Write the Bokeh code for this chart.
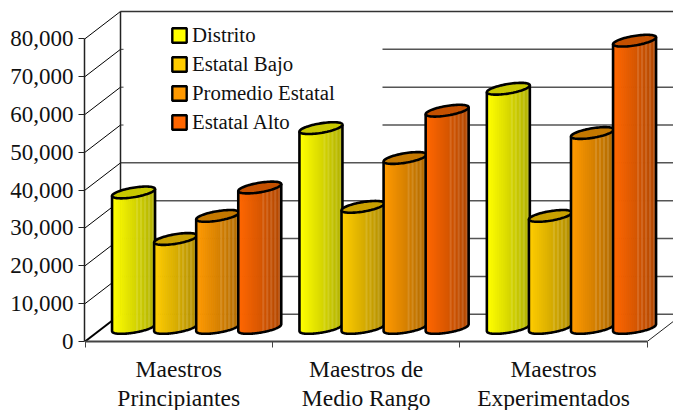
from bokeh.plotting import figure
from bokeh.embed import file_html
from bokeh.resources import INLINE
from bokeh.core.properties import value
from bokeh.models import Range1d, FixedTicker, NumeralTickFormatter, Legend, LegendItem, LinearAxis
import numpy as np

categories = [["Maestros", "Principiantes"], ["Maestros de", "Medio Rango"], ["Maestros", "Experimentados"]]
series = ["Distrito", "Estatal Bajo", "Promedio Estatal", "Estatal Alto"]
distrito = [35800, 52800, 63200]
estatal_bajo = [23500, 32000, 29600]
promedio_estatal = [29600, 44900, 51500]
estatal_alto = [37100, 57400, 75900]
y_ticks = [0, 10000, 20000, 30000, 40000, 50000, 60000, 70000, 80000]
base_rgb = [(255, 255, 0), (255, 204, 0), (255, 153, 0), (255, 102, 0)]
top_rgb = ["#C8C800", "#C8A000", "#C47800", "#C45000"]

M = 0                       # page offset of the figure
PX_Y = 3.79 / 1000          # px per unit on value axis
PX_X = 187.4                # px per category
X0_PAGE, Y0_PAGE = 84.5, 341.5
W, H = 673 - M, 410 - M
LEFT, BOTTOM = 84 - M, 410 - 341


def ux(px):
    return px / PX_X


def uy(px):
    return px / PX_Y


p = figure(width=W, height=H, output_backend="svg", toolbar_location=None,
           min_border_left=LEFT, min_border_right=0, min_border_top=0, min_border_bottom=BOTTOM,
           x_range=Range1d(ux(84 - X0_PAGE), ux(673 - X0_PAGE)),
           y_range=Range1d(0, uy(Y0_PAGE - M)), outline_line_color=None,
           background_fill_color="white", border_fill_color="white", x_axis_type=None, y_axis_type=None)

font = "Liberation Serif"
yax = LinearAxis(ticker=FixedTicker(ticks=y_ticks), formatter=NumeralTickFormatter(format="0,0"),
                 bounds=(0, 80000), major_label_text_font=font, major_label_text_font_size="23px",
                 major_label_text_color="#111111", major_tick_out=6, major_tick_in=0, major_label_standoff=5,
                 axis_line_color="#222222", axis_line_width=1.5, major_tick_line_color="#222222",
                 minor_tick_line_color=None)
p.add_layout(yax, "left")
xax = LinearAxis(ticker=FixedTicker(ticks=[0, 1, 2, 3]),
                 major_label_text_font_size="0px", major_label_standoff=0,
                 bounds=(0, 3), major_tick_out=6, major_tick_in=0, minor_tick_line_color=None,
                 axis_line_color="#444444", axis_line_width=2, major_tick_line_color="#444444")
xax.major_label_overrides = {0: "", 1: "", 2: "", 3: ""}
p.add_layout(xax, "below")

for k in range(2):
    r = p.text(x=[g + 0.5 for g in range(3)], y=[0, 0, 0], text=[c[k] for c in categories],
               text_align="center", text_baseline="middle", y_offset=27.5 + 29 * k,
               text_font=value(font), text_font_size="23.5px", text_color="#111111")
    r.level = "overlay"

DX, DY = ux(35.5), uy(27.3)
xend = ux(700)
legend_right = ux(382 - X0_PAGE)
for v in y_ticks:
    p.segment([0], [v], [DX], [v + DY], line_color="#000000", line_width=1 if v else 2)
    if 50000 <= v <= 70000:
        p.segment([DX], [v + DY], [DX + ux(3)], [v + DY], line_color="#444444", line_width=1)
        p.segment([legend_right], [v + DY], [xend], [v + DY], line_color="#555555", line_width=1.5)
    else:
        p.segment([DX], [v + DY], [xend], [v + DY], line_color="#333333" if v == 80000 else "#555555",
                  line_width=1.5)
p.segment([DX], [DY], [DX], [80000 + DY], line_color="#222222", line_width=1.5)
p.segment([3], [0], [3 + DX], [DY], line_color="#222222", line_width=1)

values = [distrito, estatal_bajo, promedio_estatal, estatal_alto]
A = 21.5
B = 4.8
S = 0.16
STRIP = 2.0
FLOOR = uy(13.6)
light_fracs = [0.58, 0.67, 0.77, 0.86, 0.95]


def strip_colour(rgb, t):
    f = 1 - 0.32 * t
    c = [x * f for x in rgb]
    if any(abs(t + 0.023 - lf) < 0.024 for lf in light_fracs):
        c = [x + (255 - x) * 0.13 for x in c]
    return "#%02x%02x%02x" % tuple(int(round(x)) for x in c)


for g in range(3):
    for i, ser in enumerate(values):
        cx_px = (g + 0.147 + i * 0.2245) * PX_X + A - 0.5
        cx = ux(cx_px)
        top_v = ser[g] + FLOOR
        base_v = FLOOR
        dxs = np.linspace(-A, A, 61)
        half = B * np.sqrt(np.clip(1 - (dxs / A) ** 2, 0, 1))
        edges = np.arange(-A, A + 0.01, STRIP)
        xs, ys, cols = [], [], []
        for a0, a1 in zip(edges[:-1], edges[1:]):
            a1b = min(a1 + 0.7, A)
            m = [a0, a1b]
            lo = [S * q - B * np.sqrt(max(1 - (q / A) ** 2, 0)) for q in m]
            hi = [S * q for q in m]
            xs.append([ux(cx_px + m[0]), ux(cx_px + m[1]), ux(cx_px + m[1]), ux(cx_px + m[0])])
            ys.append([base_v + uy(lo[0]), base_v + uy(lo[1]), top_v + uy(hi[1]), top_v + uy(hi[0])])
            cols.append(strip_colour(base_rgb[i], (a0 + A) / (2 * A)))
        p.patches(xs, ys, fill_color=cols, line_color=None)
        ox = [cx + ux(-A)] + list(cx + ux(dxs)) + [cx + ux(A)]
        oy = [top_v + uy(-S * A)] + list(base_v + uy(S * dxs - half)) + [top_v + uy(S * A)]
        p.line(ox, oy, line_color="black", line_width=2.6)
        t = np.linspace(0, 2 * np.pi, 80)
        ex = cx + ux(A * np.cos(t))
        ey = top_v + uy(S * A * np.cos(t) + B * np.sin(t))
        p.patch(ex, ey, fill_color=top_rgb[i], line_color="black", line_width=2.6)

items = []
for name, rgb in zip(series, base_rgb):
    r = p.quad(left=[-10], right=[-9], top=[-10], bottom=[-11],
               fill_color="#%02x%02x%02x" % rgb, line_color="black", line_width=2.4)
    items.append(LegendItem(label=name, renderers=[r]))
legend = Legend(items=items, location=(170 - 84, 341 - 134), padding=0, margin=0, spacing=5,
                glyph_width=18, glyph_height=18, label_height=18, label_standoff=4,
                label_text_font=font, label_text_font_size="20.8px", label_text_color="#111111",
                border_line_color=None, background_fill_alpha=0)
p.add_layout(legend, "center")

open("out.html", "w").write(file_html(p, INLINE))
